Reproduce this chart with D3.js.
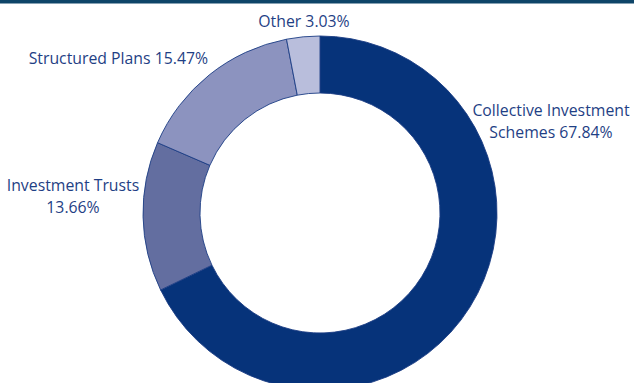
<!DOCTYPE html>
<html>
<head>
<meta charset="utf-8">
<script src="https://cdn.jsdelivr.net/npm/d3@7"></script>
<style>
  body { margin: 0; background: #fff; }
  svg { display: block; }
  .lbl { font-family: "Open Sans", sans-serif; font-size: 15.8px; fill: #1f3f85; }
</style>
</head>
<body>
<div id="chart"></div>
<script>
// fund categories, clockwise from 12 o'clock
var categories = ["Collective Investment Schemes", "Investment Trusts", "Structured Plans", "Other"];
var shares = [67.84, 13.66, 15.47, 3.03];
var labelLines = [
	["Collective Investment", "Schemes 67.84%"],
	["Investment Trusts", "13.66%"],
	["Structured Plans 15.47%"],
	["Other 3.03%"]
];
var colors = ["#06337a", "#636ea0", "#8c93bf", "#b9bedc"];

var width = 634, height = 383;
var cx = 320, cy = 213;

var svg = d3.select("#chart").append("svg")
	.attr("width", width)
	.attr("height", height);

// thin band along the top edge
svg.append("rect")
	.attr("x", 0).attr("y", 0)
	.attr("width", width).attr("height", 3.5)
	.attr("fill", "#0e4568");

var pie = d3.pie().sort(null).value(function(d){ return d; });
var arc = d3.arc().innerRadius(120).outerRadius(177);

var g = svg.append("g")
	.attr("transform", "translate(" + cx + "," + cy + ")");

g.selectAll("path")
	.data(pie(shares))
	.enter().append("path")
	.attr("d", arc)
	.attr("fill", function(d, i){ return colors[i]; })
	.attr("stroke", "#1c3d84")
	.attr("stroke-width", 0.9);

// labels placed by hand around the ring (x, first baseline, anchor)
var labelPos = [
	{x: 551, y: 116, anchor: "middle"},
	{x: 73, y: 191, anchor: "middle"},
	{x: 208, y: 64, anchor: "end"},
	{x: 304, y: 27, anchor: "middle"}
];

var lineGap = 22;
labelLines.forEach(function(lines, i){
	var p = labelPos[i];
	var t = svg.append("text")
		.attr("class", "lbl")
		.attr("text-anchor", p.anchor)
		.attr("x", p.x)
		.attr("y", p.y);
	lines.forEach(function(s, j){
		t.append("tspan")
			.attr("x", p.x)
			.attr("dy", j == 0 ? 0 : lineGap)
			.text(s);
	});
});
</script>
</body>
</html>
